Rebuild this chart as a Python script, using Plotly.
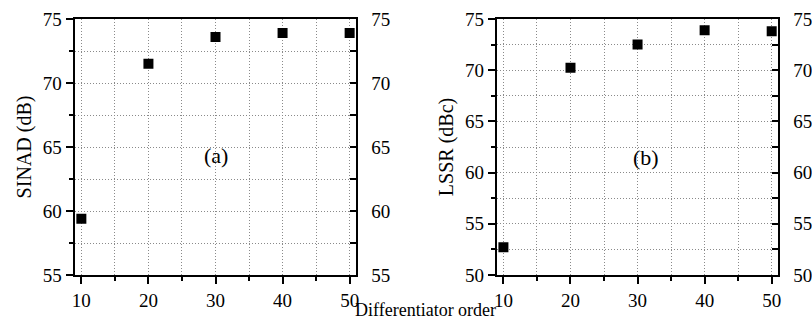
import plotly.graph_objects as go

orders = [10, 20, 30, 40, 50]
sinad_db = [59.4, 71.5, 73.6, 73.9, 73.9]
lssr_dbc = [52.7, 70.25, 72.5, 73.9, 73.8]
x_ticks = [10, 20, 30, 40, 50]
sinad_ticks = [55, 60, 65, 70, 75]
lssr_ticks = [50, 55, 60, 65, 70, 75]

FONT = "Liberation Serif"
W, H = 812, 321

fig = go.Figure()
fig.add_trace(go.Scatter(x=orders, y=sinad_db, mode="markers", xaxis="x", yaxis="y",
                         marker=dict(symbol="square", size=10, color="black"), showlegend=False))
fig.add_trace(go.Scatter(x=orders, y=lssr_dbc, mode="markers", xaxis="x2", yaxis="y2",
                         marker=dict(symbol="square", size=10, color="black"), showlegend=False))
# invisible traces for right-hand axes
fig.add_trace(go.Scatter(x=orders, y=sinad_db, mode="markers", xaxis="x", yaxis="y3",
                         marker=dict(opacity=0), showlegend=False, hoverinfo="skip"))
fig.add_trace(go.Scatter(x=orders, y=lssr_dbc, mode="markers", xaxis="x2", yaxis="y4",
                         marker=dict(opacity=0), showlegend=False, hoverinfo="skip"))

dom1 = [73 / W, 360 / W]
dom2 = [503 / W, 790 / W]
ydom = [0, 1]

grid = dict(showgrid=True, gridcolor="#8a8a8a", griddash="1px,2px", gridwidth=1)
TICKSZ = 19

def xax(dom, anchor):
    return dict(domain=dom, anchor=anchor, range=[9, 51], tickvals=x_ticks,
                ticks="outside", ticklen=7, tickwidth=1.5, tickcolor="black",
                showline=True, linecolor="black", linewidth=2, mirror=True,
                zeroline=False, tickfont=dict(family=FONT, size=TICKSZ, color="black"),
                minor=dict(dtick=5, tick0=0, ticks="outside", ticklen=4, tickwidth=1.5,
                           tickcolor="black", **grid),
                **grid)

def yax(rng, tv, anchor, title):
    return dict(domain=ydom, anchor=anchor, range=rng, tickvals=tv,
                ticks="outside", ticklen=7, tickwidth=1.5, tickcolor="black",
                showline=True, linecolor="black", linewidth=2,
                zeroline=False, tickfont=dict(family=FONT, size=TICKSZ, color="black"),
                title=dict(text=title, font=dict(family=FONT, size=20, color="black"), standoff=6),
                minor=dict(dtick=2.5, tick0=0, ticks="outside", ticklen=4, tickwidth=1.5,
                           tickcolor="black", **grid),
                **grid)

def yax_r(rng, tv, anchor, over):
    return dict(overlaying=over, anchor=anchor, side="right", range=rng, tickvals=tv,
                ticks="inside", ticklen=6, tickwidth=1.5, tickcolor="black",
                showline=True, linecolor="black", linewidth=2, showgrid=False,
                zeroline=False, tickfont=dict(family=FONT, size=TICKSZ, color="black"),
                ticklabelstandoff=9,
                minor=dict(dtick=2.5, tick0=0, ticks="inside", ticklen=6, tickwidth=1.5,
                           tickcolor="black", showgrid=False))

fig.update_layout(
    width=W, height=H,
    margin=dict(l=0, r=0, t=19, b=46),
    paper_bgcolor="white", plot_bgcolor="white",
    xaxis=xax(dom1, "y"),
    xaxis2=xax(dom2, "y2"),
    yaxis=yax([55, 75], sinad_ticks, "x", "SINAD (dB)"),
    yaxis2=yax([50, 75], lssr_ticks, "x2", "LSSR (dBc)"),
    yaxis3=yax_r([55, 75], sinad_ticks, "x", "y"),
    yaxis4=yax_r([50, 75], lssr_ticks, "x2", "y2"),
    annotations=[
        dict(text="(a)", x=30.1, y=64.3, xref="x", yref="y", showarrow=False,
             font=dict(family=FONT, size=22, color="black")),
        dict(text="(b)", x=31.2, y=61.5, xref="x2", yref="y2", showarrow=False,
             font=dict(family=FONT, size=22, color="black")),
        dict(text="Differentiator order", x=430 / W, y=-46 / (H - 65), xref="paper", yref="paper",
             showarrow=False, yanchor="bottom", borderpad=0, yshift=0,
             font=dict(family=FONT, size=18, color="black")),
    ],
)

fig.write_html("out.html")
